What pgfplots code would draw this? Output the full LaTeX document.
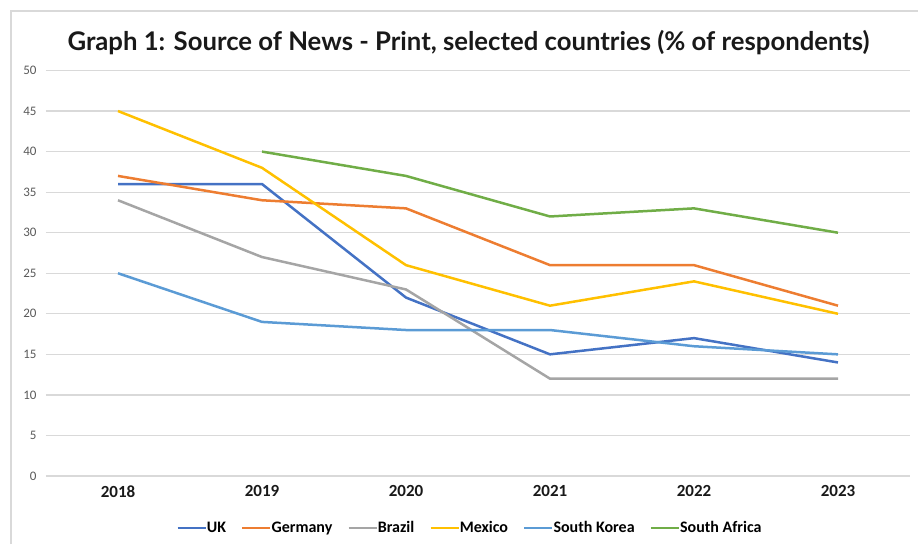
\documentclass[border=0pt]{standalone}
\usepackage{pgfplots}
\pgfplotsset{compat=1.18}
\usepackage{fontspec}
\setmainfont{Carlito}
\newfontfamily\titlefont{Lato}
\definecolor{cUK}{HTML}{4472C4}
\definecolor{cDE}{HTML}{ED7D31}
\definecolor{cBR}{HTML}{A5A5A5}
\definecolor{cMX}{HTML}{FFC000}
\definecolor{cKR}{HTML}{5B9BD5}
\definecolor{cZA}{HTML}{70AD47}
\definecolor{gridc}{HTML}{D9D9D9}
\definecolor{tickc}{HTML}{595959}
\begin{document}
\begin{tikzpicture}
\useasboundingbox (0pt,0pt) rectangle (918pt,544pt);
\draw[gridc, line width=1.2pt] (11pt,0pt) -- (11pt,533pt) -- (918pt,533pt);
\node[font=\titlefont\bfseries\fontsize{25.7}{30}\selectfont, text=black!90] at (468.5pt,501pt) {Graph 1: Source of News - Print, selected countries (\% of respondents)};
\begin{axis}[
  at={(46pt,68pt)}, anchor=south west,
  scale only axis, width=864pt, height=405.5pt,
  xmin=-0.5, xmax=5.5, ymin=0, ymax=50,
  xtick={0,1,2,3,4,5}, xticklabels={2018,2019,2020,2021,2022,2023},
  ytick={0,5,...,50},
  axis line style={draw=none},
  major tick length=0pt,
  ymajorgrids, grid style={gridc, line width=1.2pt},
  xticklabel style={font=\bfseries\fontsize{17}{20}\selectfont, text=black!90, yshift=-6pt},
  yticklabel style={font=\fontsize{13}{15}\selectfont, text=tickc, xshift=-6pt},
  /pgf/number format/assume math mode=true,
  legend style={at={(0.4907,-0.128)}, anchor=center, draw=none, fill=none,
    legend columns=6, font=\bfseries\fontsize{16}{19}\selectfont,
    /tikz/every even column/.append style={column sep=13pt},
    /tikz/every odd column/.append style={column sep=-2pt}},
  legend cell align=left,
  legend image code/.code={\draw[#1, line width=2.5pt] (0pt,0pt) -- (28pt,0pt);},
  every axis plot/.append style={line width=2.5pt, line join=round, mark=none},
  clip=false,
]
\addplot[cUK] coordinates {(0,36) (1,36) (2,22) (3,15) (4,17) (5,14)};
\addlegendentry{UK}
\addplot[cDE] coordinates {(0,37) (1,34) (2,33) (3,26) (4,26) (5,21)};
\addlegendentry{Germany}
\addplot[cBR] coordinates {(0,34) (1,27) (2,23) (3,12) (4,12) (5,12)};
\addlegendentry{Brazil}
\addplot[cMX] coordinates {(0,45) (1,38) (2,26) (3,21) (4,24) (5,20)};
\addlegendentry{Mexico}
\addplot[cKR] coordinates {(0,25) (1,19) (2,18) (3,18) (4,16) (5,15)};
\addlegendentry{South Korea}
\addplot[cZA] coordinates {(1,40) (2,37) (3,32) (4,33) (5,30)};
\addlegendentry{South Africa}
\end{axis}
\end{tikzpicture}
\end{document}
